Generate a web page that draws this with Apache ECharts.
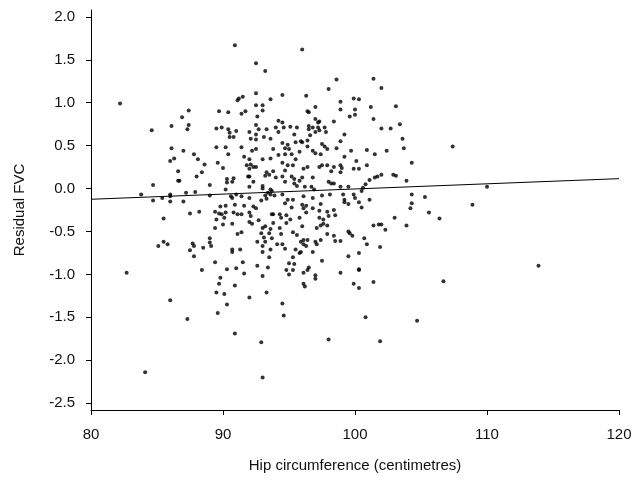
<!DOCTYPE html>
<html>
<head>
<meta charset="utf-8">
<script src="https://cdn.jsdelivr.net/npm/echarts@6/dist/echarts.min.js"></script>
<style>html,body{margin:0;padding:0;background:#fff}#c{width:635px;height:483px}</style>
</head>
<body>
<div id="c"></div>
<script>
// Axis ticks
const xTicks = [80, 90, 100, 110, 120];
const yTicks = [-2.5, -2.0, -1.5, -1.0, -0.5, 0.0, 0.5, 1.0, 1.5, 2.0];

// Fitted regression line end points [hip, residual]
const fitLine = [[80, -0.125], [120, 0.115]];

// Observations [hip circumference (cm), residual FVC], grouped by region
const groupUpperLeft = [[82.2,0.99],[87.4,0.91],[86.9,0.83],[84.6,0.68],[86.1,0.73],[87.4,0.74],[87.3,0.69],[86.1,0.47],[87.0,0.44]];
const groupUpperMid = [[90.9,1.67],[92.5,1.46],[93.2,1.37],[92.5,1.11],[91.5,1.07],[91.2,1.05],[91.1,1.03],[93.6,1.04],[94.5,1.09],[92.5,0.97],
 [93.0,0.97],[93.0,0.91],[89.7,0.90],[90.4,0.89],[91.7,0.90],[91.4,0.87],[92.6,0.84],[94.2,0.79],[94.5,0.77],[92.5,0.74],
 [89.5,0.70],[89.9,0.71],[90.4,0.69],[91.0,0.67],[90.5,0.65],[92.0,0.66],[92.7,0.69],[93.3,0.69],[94.0,0.71],[94.6,0.71],
 [94.2,0.66],[92.5,0.63],[90.5,0.60],[90.8,0.60],[92.1,0.58],[92.5,0.57],[93.6,0.58],[93.1,0.60],[94.5,0.53],[94.9,0.51],
 [89.5,0.48],[90.2,0.48],[91.4,0.48],[92.2,0.44],[92.5,0.46],[93.8,0.46],[94.7,0.47],[95.0,0.46]];
const groupUpperRight = [[96.0,1.62],[98.6,1.27],[101.4,1.28],[98.0,1.16],[96.3,1.08],[98.9,1.01],[99.9,1.05],[100.3,1.04],[97.0,0.95],[98.9,0.92],
 [100.0,0.92],[101.2,0.95],[96.4,0.90],[96.5,0.89],[100.0,0.86],[99.6,0.84],[101.4,0.81],[97.0,0.81],[97.3,0.78],[97.2,0.77],
 [98.4,0.78],[95.1,0.72],[95.6,0.71],[96.5,0.73],[96.5,0.69],[96.8,0.71],[97.2,0.71],[97.7,0.71],[97.3,0.68],[97.8,0.66],
 [97.0,0.66],[95.4,0.63],[96.6,0.62],[99.2,0.63],[95.5,0.54],[95.9,0.55],[96.0,0.54],[96.4,0.56],[97.5,0.52],[97.7,0.49],
 [98.9,0.55],[96.4,0.49],[97.9,0.46],[98.6,0.47],[99.7,0.44],[100.9,0.45],[95.8,0.43],[96.8,0.44]];
const groupUpperFar = [[102.0,1.17],[103.1,0.96],[102.0,0.70],[102.7,0.70],[103.4,0.75],[103.6,0.58],[103.7,0.47],[102.4,0.44],[107.4,0.49]];
const groupMidLeft = [[86.0,0.32],[86.3,0.35],[87.8,0.40],[88.1,0.34],[86.6,0.20],[86.6,0.09],[86.7,0.09],[88.0,0.14],[84.7,0.04],[83.8,-0.07],
 [86.0,-0.07],[86.0,-0.09],[85.4,-0.11],[84.7,-0.14],[86.0,-0.15],[87.2,-0.05],[87.9,-0.04],[87.0,-0.15],[87.5,-0.29],[88.2,-0.27],
 [85.5,-0.35],[85.5,-0.62],[85.1,-0.67],[85.8,-0.65],[87.7,-0.64],[87.8,-0.67],[87.5,-0.72],[87.8,-0.79]];
const groupMidA = [[88.6,0.28],[88.4,0.19],[89.6,0.30],[90.0,0.24],[90.4,0.40],[90.3,0.11],[90.8,0.12],[90.7,0.08],[90.3,0.07],[89.0,0.04],
 [90.2,-0.01],[89.0,-0.08],[91.6,0.37],[92.0,0.34],[92.1,0.28],[91.8,0.27],[92.3,0.25],[92.0,0.23],[92.5,0.25],[93.0,0.34],
 [93.6,0.35],[94.2,0.39],[94.7,0.40],[94.5,0.30],[94.9,0.27],[94.7,0.21],[93.3,0.19],[93.5,0.16],[93.8,0.20],[93.2,0.15],
 [91.9,0.14],[92.0,0.14],[92.3,0.08],[94.0,0.13],[94.5,0.14],[94.7,0.08],[93.0,0.03],[93.0,0.00],[92.0,0.02],[93.6,-0.01],
 [93.4,-0.05],[93.7,-0.03],[93.6,-0.07],[93.2,-0.08],[93.3,-0.12],[93.9,-0.08],[94.5,-0.07],[92.9,-0.14],[94.9,-0.13],[94.7,-0.17],
 [90.6,-0.09],[90.7,-0.11],[91.0,-0.07],[91.4,-0.09],[92.0,-0.11],[90.2,-0.20],[89.8,-0.21],[90.9,-0.19],[91.6,-0.20],[92.3,-0.21]];
const groupMidB = [[89.4,-0.27],[89.7,-0.29],[89.9,-0.30],[90.2,-0.28],[90.8,-0.28],[91.1,-0.30],[91.4,-0.30],[92.0,-0.28],[92.1,-0.32],[92.5,-0.23],
 [93.7,-0.30],[93.8,-0.30],[94.3,-0.30],[94.4,-0.34],[94.8,-0.31],[89.5,-0.36],[90.1,-0.34],[92.0,-0.39],[92.2,-0.41],[92.7,-0.37],
 [93.8,-0.40],[94.8,-0.40],[90.0,-0.42],[90.7,-0.41],[89.4,-0.46],[93.2,-0.44],[93.0,-0.46],[93.6,-0.47],[94.3,-0.46],[92.9,-0.52],
 [93.5,-0.52],[94.4,-0.53],[91.1,-0.53],[91.4,-0.51],[89.0,-0.58],[89.0,-0.63],[93.1,-0.57],[92.6,-0.62],[93.2,-0.62],[93.7,-0.58],
 [94.1,-0.65],[94.5,-0.65],[89.1,-0.67],[88.5,-0.69],[90.7,-0.71],[90.7,-0.74],[91.3,-0.71],[93.0,-0.67],[93.6,-0.71],[94.7,-0.70],
 [93.0,-0.74],[93.5,-0.80],[89.4,-0.86],[91.5,-0.86],[92.6,-0.90],[93.4,-0.92],[95.0,-0.87],[91.0,-0.93],[90.3,-0.94]];
const groupMidC = [[95.2,0.40],[95.5,0.34],[95.3,0.27],[96.1,0.23],[96.4,0.25],[97.0,0.41],[97.4,0.40],[97.3,0.25],[97.5,0.27],[97.9,0.27],
 [98.4,0.25],[98.9,0.27],[99.0,0.24],[99.2,0.37],[100.1,0.32],[99.9,0.23],[100.3,0.23],[100.9,0.27],[101.5,0.40],[98.2,0.20],
 [98.9,0.19],[95.2,0.14],[95.4,0.11],[96.0,0.13],[96.8,0.13],[95.4,0.06],[95.6,0.03],[96.2,0.02],[96.7,0.02],[95.8,0.09],
 [98.0,0.08],[98.2,0.06],[98.4,0.06],[98.9,0.02],[99.5,0.02],[100.8,0.05],[101.1,0.10],[101.5,0.13],[101.7,0.14],[100.6,0.01],
 [100.5,-0.03],[96.9,-0.01],[97.5,-0.08],[98.1,-0.07],[99.1,-0.07],[99.2,-0.13],[99.9,-0.07],[100.0,-0.11],[100.3,-0.16],[101.1,-0.13],
 [96.8,-0.11],[95.3,-0.13],[96.1,-0.09],[99.2,-0.16],[99.5,-0.18],[100.5,-0.22],[96.0,-0.19],[96.3,-0.20],[97.4,-0.18],[95.2,-0.22]];
const groupMidD = [[96.1,-0.23],[96.3,-0.28],[96.8,-0.23],[97.3,-0.26],[97.9,-0.27],[98.4,-0.25],[98.0,-0.32],[98.5,-0.31],[95.1,-0.36],[95.8,-0.34],
 [97.3,-0.34],[97.6,-0.36],[97.6,-0.41],[97.4,-0.43],[97.1,-0.46],[97.9,-0.43],[96.0,-0.44],[95.3,-0.51],[95.6,-0.54],[97.9,-0.53],
 [98.4,-0.55],[99.5,-0.50],[99.6,-0.52],[99.8,-0.55],[100.7,-0.58],[101.4,-0.43],[101.8,-0.42],[96.1,-0.60],[96.4,-0.60],[95.9,-0.62],
 [96.1,-0.65],[96.3,-0.67],[97.0,-0.62],[97.4,-0.60],[97.1,-0.65],[98.5,-0.61],[98.9,-0.61],[100.9,-0.65],[95.5,-0.71],[95.9,-0.74],
 [95.8,-0.75],[96.8,-0.74],[100.3,-0.75],[99.5,-0.79],[95.3,-0.80],[95.4,-0.88],[97.5,-0.84],[96.5,-0.92],[100.3,-0.94]];
const groupMidRight = [[104.3,0.30],[102.0,0.16],[102.9,0.16],[103.1,0.15],[103.9,0.09],[104.3,-0.07],[105.3,-0.10],[104.3,-0.17],[104.2,-0.23],[105.6,-0.28],
 [106.4,-0.35],[103.0,-0.34],[102.0,-0.42],[102.3,-0.48],[103.9,-0.43],[101.9,-0.68],
 [108.9,-0.19],[110.0,0.02],[113.9,-0.90]];
const groupLowLeft = [[82.7,-0.98],[86.0,-1.30],[87.3,-1.52],[84.1,-2.14]];
const groupLowMid = [[88.4,-0.95],[89.8,-1.04],[91.6,-0.99],[93.0,-1.02],[89.7,-1.11],[90.9,-1.13],[89.5,-1.21],[90.1,-1.23],[92.0,-1.27],[93.3,-1.21],
 [90.3,-1.35],[89.6,-1.45],[94.5,-1.34],[94.6,-1.48],[90.9,-1.69],[92.9,-1.79],[93.0,-2.20],[94.8,-0.95],[95.0,-1.00]];
const groupLowRight = [[95.3,-0.95],[96.1,-0.98],[96.4,-0.95],[97.0,-1.01],[97.0,-1.05],[96.1,-1.11],[96.2,-1.14],[98.9,-0.98],[100.3,-0.95],[99.9,-1.11],
 [100.3,-1.16],[101.4,-1.09],[100.8,-1.50],[98.0,-1.76],[101.9,-1.78],[106.7,-1.08],[104.7,-1.54]];

const allPoints = [].concat(groupUpperLeft, groupUpperMid, groupUpperRight, groupUpperFar,
  groupMidLeft, groupMidA, groupMidB, groupMidC, groupMidD, groupMidRight,
  groupLowLeft, groupLowMid, groupLowRight);

const chart = echarts.init(document.getElementById('c'), null, {renderer: 'canvas'});
const txt = {color: '#111', fontFamily: 'Liberation Sans, Arial, sans-serif', fontSize: 15};
chart.setOption({
  animation: false,
  backgroundColor: '#fff',
  grid: {left: 91, right: 16, top: 10, bottom: 73},
  xAxis: {
    type: 'value', min: 80, max: 120, interval: 10,
    name: 'Hip circumference (centimetres)', nameLocation: 'middle', nameGap: 48,
    nameTextStyle: Object.assign({}, txt, {fontSize: 15}),
    axisLine: {show: true, onZero: false, lineStyle: {color: '#000', width: 1}},
    axisTick: {show: true, length: 5, inside: false, lineStyle: {color: '#000', width: 1}},
    axisLabel: Object.assign({}, txt, {margin: 17}),
    splitLine: {show: false}
  },
  yAxis: {
    type: 'value', min: -2.58, max: 2.08,
    name: 'Residual FVC', nameLocation: 'middle', nameGap: 64, nameRotate: 90,
    nameTextStyle: Object.assign({}, txt, {fontSize: 15}),
    axisLine: {show: true, onZero: false, lineStyle: {color: '#000', width: 1}},
    axisTick: {show: true, length: 5, inside: false, lineStyle: {color: '#000', width: 1}, customValues: yTicks},
    axisLabel: Object.assign({}, txt, {margin: 16, customValues: yTicks, formatter: v => v.toFixed(1)}),
    splitLine: {show: false}
  },
  series: [
    {type: 'scatter', data: allPoints, symbolSize: 4, itemStyle: {color: '#000'}, silent: true},
    {type: 'line', data: fitLine, symbol: 'none', lineStyle: {color: '#000', width: 1}, silent: true}
  ]
});
</script>
</body>
</html>
